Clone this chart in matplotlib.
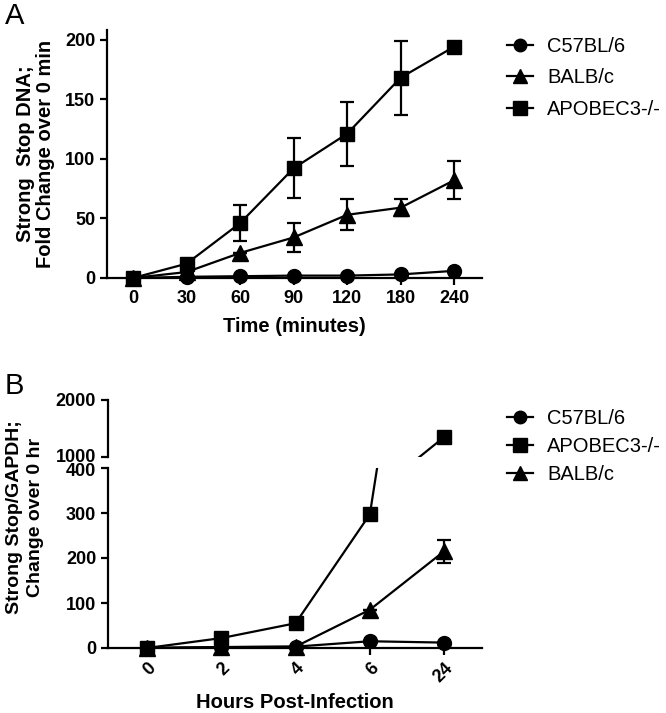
import numpy as np
import matplotlib
matplotlib.use('Agg')
import matplotlib.pyplot as plt
from matplotlib.lines import Line2D
from matplotlib.transforms import ScaledTranslation

plt.rcParams['font.family'] = ['Liberation Sans', 'DejaVu Sans']

# panel A: strong stop DNA, fold change over 0 min
time_labels = ['0', '30', '60', '90', '120', '180', '240']
c57_a = [0, 1, 1.5, 2, 2, 3, 6]
c57_a_err = [0, 0, 0, 0, 0, 0, 0]
balb_a = [0, 5, 21, 34, 53, 59, 82]
balb_a_err = [0, 0, 0, 12, 13, 7, 16]
apo_a = [0, 12, 46, 92, 121, 168, 194]
apo_a_err = [0, 0, 15, 25, 27, 31, 4]

# panel B: strong stop / GAPDH, change over 0 hr
hour_labels = ['0', '2', '4', '6', '24']
c57_b = [0, 2, 3, 15, 12]
c57_b_err = [0, 0, 0, 0, 0]
apo_b = [0, 22, 55, 297, 1350]
apo_b_err = [0, 0, 10, 0, 0]
balb_b = [0, 2, 3, 85, 215]
balb_b_err = [0, 0, 0, 0, 25]

lw = 1.6
ms_c, ms_t, ms_s = 10, 11, 10.5
bold = dict(fontweight='bold')


def handle(mk, ms):
    return Line2D([], [], color='k', lw=lw, marker=mk, ms=ms)


leg_kw = dict(frameon=False, fontsize=14.5, handlelength=1.3, handletextpad=0.7,
              borderpad=0, borderaxespad=0, loc='upper left')

fig = plt.figure(figsize=(6.66, 7.13), dpi=100)

# ---------------- A ----------------
ax = fig.add_axes([107/666, 1-278/713, 375/666, 248/713])
xa = np.arange(len(time_labels))
ax.errorbar(xa, c57_a, yerr=c57_a_err, color='k', lw=lw, marker='o', ms=ms_c,
            capsize=5, elinewidth=lw, capthick=lw, clip_on=False, zorder=3)
ax.errorbar(xa, balb_a, yerr=balb_a_err, color='k', lw=lw, marker='^', ms=ms_t,
            capsize=5, elinewidth=lw, capthick=lw, clip_on=False, zorder=3)
ax.errorbar(xa, apo_a, yerr=apo_a_err, color='k', lw=lw, marker='s', ms=ms_s,
            capsize=5, elinewidth=lw, capthick=lw, clip_on=False, zorder=3)
ax.set_xlim(-0.486, 6.52)
ax.set_ylim(0, 208)
ax.set_xticks(xa)
ax.set_xticklabels(time_labels)
ax.set_yticks([0, 50, 100, 150, 200])
for s in ['top', 'right']:
    ax.spines[s].set_visible(False)
for s in ['left', 'bottom']:
    ax.spines[s].set_linewidth(1.6)
ax.tick_params(width=1.6, length=5, labelsize=13)
for t in ax.get_xticklabels() + ax.get_yticklabels():
    t.set_fontweight('bold')
ax.set_xlabel('Time (minutes)', fontsize=14.5, labelpad=7, **bold)
ax.set_ylabel('Strong  Stop DNA;\nFold Change over 0 min', fontsize=14.5, labelpad=7,
              linespacing=1.05, **bold)
fig.legend([handle('o', 9), handle('^', 10), handle('s', 9.5)],
           ['C57BL/6', 'BALB/c', 'APOBEC3-/-'],
           bbox_to_anchor=(507/666, 1-37/713), labelspacing=0.62, **leg_kw)
fig.text(5/666, 1-2/713, 'A', fontsize=21, va='top', ha='left')

# ---------------- B (broken y axis) ----------------
axl = fig.add_axes([108/666, 1-648/713, 374/666, 180/713])
axu = fig.add_axes([108/666, 1-457/713, 374/666, 57/713], sharex=axl)
xb = np.arange(len(hour_labels))

series_b = [(c57_b, c57_b_err, 'o', ms_c),
            (apo_b, apo_b_err, 's', ms_s),
            (balb_b, balb_b_err, '^', ms_t)]

for a, lo, hi in [(axl, 0, 400), (axu, 1000, 2000)]:
    for vals, err, mk, ms in series_b:
        v = np.array(vals, dtype=float)
        e = np.array(err, dtype=float)
        a.plot(xb, v, color='k', lw=lw, zorder=2)
        inside = (v >= lo) & (v <= hi)
        a.errorbar(xb[inside], v[inside], yerr=e[inside], color='k', lw=0, marker=mk, ms=ms,
                   capsize=5, elinewidth=lw, capthick=lw, clip_on=False, zorder=3)
    a.set_ylim(lo, hi)
    for s in ['top', 'right']:
        a.spines[s].set_visible(False)
    a.spines['left'].set_linewidth(1.6)
    a.tick_params(width=1.6, length=5, labelsize=13)

axl.spines['bottom'].set_linewidth(1.6)
axu.spines['bottom'].set_visible(False)
axu.tick_params(axis='x', bottom=False, labelbottom=False)
axu.set_yticks([1000, 2000])
axl.set_yticks([0, 100, 200, 300, 400])
axl.set_xlim(-0.525, 4.51)
axl.set_xticks(xb)
axl.set_xticklabels(hour_labels, rotation=45, ha='right', va='top', rotation_mode='anchor')
for t in axl.get_xticklabels() + axl.get_yticklabels() + axu.get_yticklabels():
    t.set_fontweight('bold')

# nudge the two labels at the axis break apart a little
lab_1000 = axu.get_yticklabels()[0]
lab_1000.set_transform(lab_1000.get_transform() + ScaledTranslation(0, 2/100, fig.dpi_scale_trans))
lab_1000.set_va('center_baseline')
lab_400 = axl.get_yticklabels()[-1]
lab_400.set_transform(lab_400.get_transform() + ScaledTranslation(0, -1/100, fig.dpi_scale_trans))

axl.set_xlabel('Hours Post-Infection', fontsize=14.5, labelpad=5, **bold)
fig.text(25/666, 1-517/713, 'Strong Stop/GAPDH;\nChange over 0 hr', fontsize=14,
         rotation=90, ha='center', va='center', multialignment='center',
         linespacing=1.3, **bold)
fig.legend([handle('o', 9), handle('s', 9.5), handle('^', 10)],
           ['C57BL/6', 'APOBEC3-/-', 'BALB/c'],
           bbox_to_anchor=(507/666, 1-409/713), labelspacing=0.45, **leg_kw)
fig.text(5/666, 1-372/713, 'B', fontsize=21, va='top', ha='left')

fig.savefig('out.png', dpi=100)
